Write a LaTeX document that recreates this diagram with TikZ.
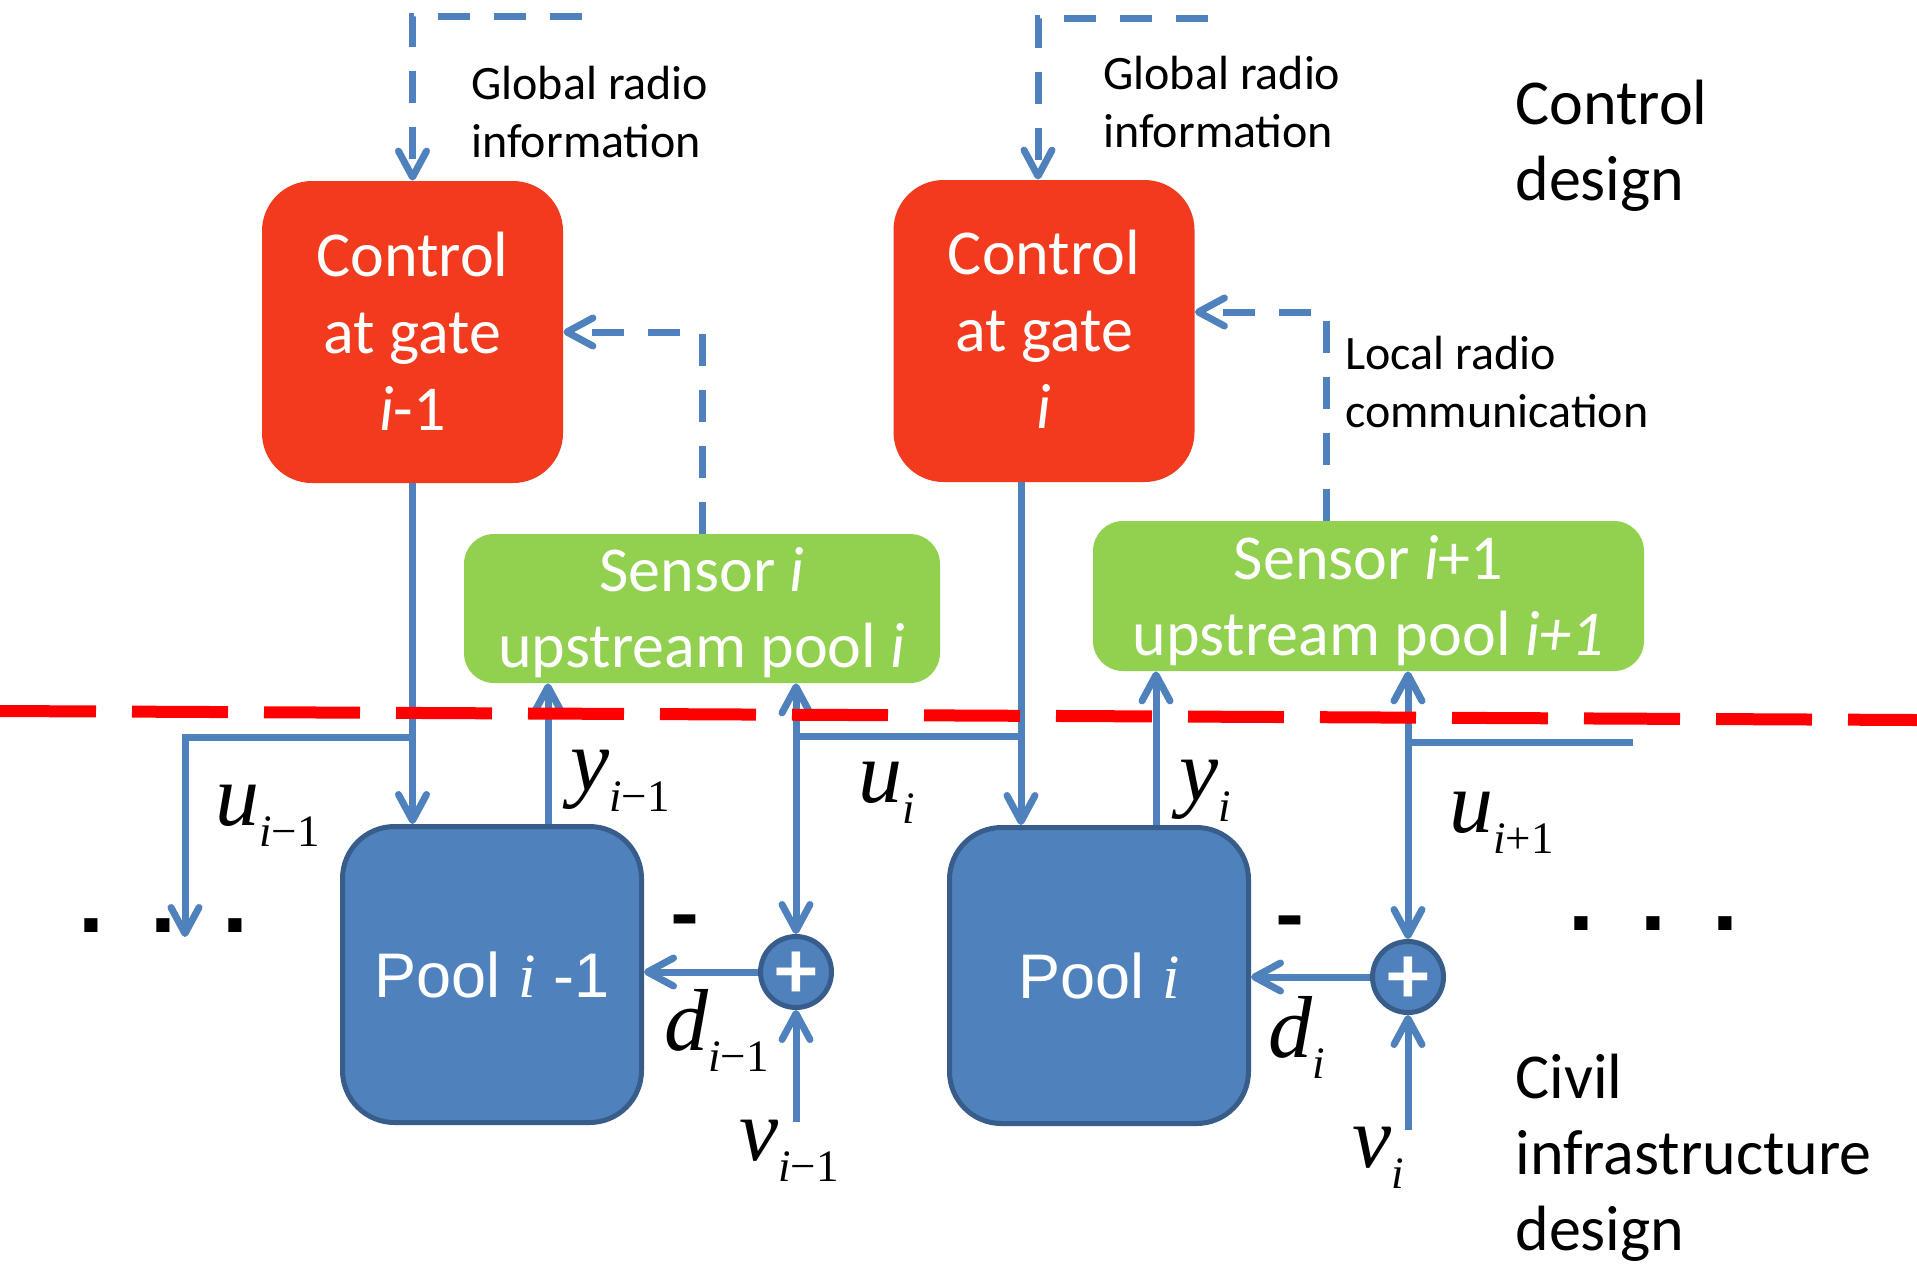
\documentclass[tikz,border=0pt]{standalone}
\usepackage{fontspec}
\setmainfont{Carlito}
\newfontfamily\tms{Liberation Serif}
\newfontfamily\arl{Liberation Sans}
\usetikzlibrary{arrows.meta}

\definecolor{gatered}{HTML}{F23A1E}
\definecolor{sensgreen}{HTML}{92D050}
\definecolor{poolblue}{HTML}{4F81BD}
\definecolor{pooledge}{HTML}{385D8A}
\definecolor{wireblue}{HTML}{4F81BD}
\definecolor{cutred}{HTML}{FF0000}

\newcommand\fs[2]{\fontsize{#1}{#2}\selectfont}
% signal name in Times-like italics with a lowered index
\newcommand\sig[2]{{\tms\fs{44pt}{44pt}\itshape #1}\raisebox{-10.5pt}{\tms\fs{22.5pt}{22.5pt}#2}}

\begin{document}
\begin{tikzpicture}[x=0.5pt,y=-0.5pt,
  ctrl/.style={fill=gatered, rounded corners=25pt, minimum width=150.5pt,
    minimum height=151pt, inner sep=0, text=white, align=center,
    font=\fs{32pt}{38.5pt}, text height=98pt, text depth=0pt},
  sensor/.style={fill=sensgreen, rounded corners=15pt, inner sep=0,
    text=white, align=center, font=\fs{32pt}{38pt},
    text height=59pt, text depth=0pt},
  pool/.style={fill=poolblue, draw=pooledge, line width=2.5pt,
    rounded corners=26pt, minimum width=149.5pt, minimum height=148pt,
    inner sep=0, text=white, font=\arl\fs{31.5pt}{36pt},
    text height=22.5pt, text depth=0pt},
  sum/.style={circle, fill=poolblue, draw=pooledge, line width=2.5pt,
    minimum size=35.5pt, inner sep=0, text=white,
    font=\bfseries\fs{42pt}{42pt}},
  wire/.style={draw=wireblue, line width=3.5pt},
  arr/.style={wire, -{Straight Barb[length=13pt,width=14pt,round]}},
  arrboth/.style={wire, {Straight Barb[length=13pt,width=14pt,round]}-{Straight Barb[length=13pt,width=14pt,round]}},
  radio/.style={dash pattern=on 16pt off 12pt},
  cut/.style={draw=cutred, line width=6pt, dash pattern=on 48pt off 18pt},
  note/.style={inner sep=0, anchor=base west, align=left,
    font=\fs{24pt}{29pt}},
  side/.style={inner sep=0, anchor=base west, align=left,
    font=\fs{32pt}{38pt}},
  sigl/.style={inner sep=0, anchor=base west},
  signdash/.style={inner sep=0, anchor=base, font=\bfseries\fs{44pt}{44pt}},
  dots/.style={inner sep=0, anchor=base west, font=\arl\bfseries\fs{46.5pt}{46.5pt}}
]
\useasboundingbox (0,0) rectangle (1917,1266);

% gate controllers
\node[ctrl] (k1) at (412.5,332) {Control\\at gate\\\textit{i}-1};
\node[ctrl, text height=97pt] (k2) at (1044,331) {Control\\at gate\\\textit{i}};

% level sensors
\node[sensor, minimum width=238pt, minimum height=74.5pt] (s1) at (702,608.5)
  {Sensor \textit{i}\\upstream pool \textit{i}};
\node[sensor, minimum width=275.5pt, minimum height=75pt] (s2) at (1368.5,596)
  {Sensor \textit{i}+1\\upstream pool \textit{i+1}};

% pools
\node[pool] (p1) at (492,974.5) {Pool {\tms\itshape i} -1};
\node[pool] (p2) at (1099,975.5) {Pool {\tms\itshape i}};

% summing junctions
\node[sum] (c1) at (796,972) {\raisebox{-0.32em}[0pt][0pt]{\makebox[0pt]{+}}};
\node[sum] (c2) at (1408,977) {\raisebox{-0.32em}[0pt][0pt]{\makebox[0pt]{+}}};

% free ends and branch points
\coordinate (g1) at (582,16);
\coordinate (g2) at (1208,18);
\coordinate (j1) at (412.5,737);
\coordinate (du) at (185,937);
\coordinate (j2) at (1021,736);
\coordinate (j3) at (1633,742);
\coordinate (v1) at (796,1122);
\coordinate (v2) at (1408,1130);
\coordinate (r0) at (0,711);
\coordinate (r1) at (1917,720);

% radio links
\draw[arr, radio] (g1) -| (k1.north);
\draw[arr, radio] (g2) -| ([xshift=-3pt]k2.north);
\draw[arr, radio] (s1.north) |- (k1.east);
\draw[arr, radio] ([xshift=-21.25pt]s2.north) |- ([yshift=9.5pt]k2.east);

% gate flows and measurements
\draw[arr] (k1.south) -- (k1.south |- p1.north);
\draw[arr] (j1) -| (du);
\draw[arr] ([xshift=28pt]p1.north) -- ([xshift=28pt]p1.north |- s1.south);
\draw[arrboth] (c1.north) -- (c1.north |- s1.south);
\draw[wire] (j2) -- (j2 -| c1);
\draw[arr] ([xshift=-11.5pt]k2.south) -- ([xshift=-11.5pt]k2.south |- p2.north);
\draw[arr] ([xshift=28.5pt]p2.north) -- ([xshift=28.5pt]p2.north |- s2.south);
\draw[arrboth] (c2.north) -- (c2.north |- s2.south);
\draw[wire] (j3) -- (j3 -| c2);
\draw[arr] (c1.west) -- (c1.west -| p1.east);
\draw[arr] (c2.west) -- (c2.west -| p2.east);
\draw[arr] (v1) -- (c1.south);
\draw[arr] (v2) -- (c2.south);

% boundary between control and civil design
\draw[cut] (r0) -- (r1);

% signal names
\node[sigl] (lu1) at (215,825) {\sig{u}{\textit{i}−1}};
\node[sigl] (ly1) at (570,790) {\sig{y}{\textit{i}−1}};
\node[sigl] (lu2) at (858,802) {\sig{u}{\textit{i}}};
\node[sigl] (ld1) at (664,1050) {\sig{d}{\textit{i}−1}};
\node[sigl] (lv1) at (739,1160) {\sig{v}{\textit{i}−1}};
\node[sigl] (ly2) at (1179,800) {\sig{y}{\textit{i}}};
\node[sigl] (lu3) at (1449,832) {\sig{u}{\textit{i}+1}};
\node[sigl] (ld2) at (1268,1057) {\sig{d}{\textit{i}}};
\node[sigl] (lv2) at (1352,1167) {\sig{v}{\textit{i}}};

% signs at the pool inputs
\node[signdash] (m1) at (685,944) {-};
\node[signdash] (m2) at (1290,945) {-};

% continuation dots
\node[dots] (e1) at (78,932) {.\hspace{23pt}.\hspace{23pt}.};
\node[dots] (e2) at (1568,930) {.\hspace{23pt}.\hspace{23pt}.};

% annotations (anchored at the baseline of the last line)
\node[note] (t1) at (471,157) {Global radio\\information};
\node[note] (t2) at (1103,147) {Global radio\\information};
\node[note] (t3) at (1345,427) {Local radio\\communication};
\node[side] (t4) at (1515,200) {Control\\design};
\node[side] (t5) at (1515,1250) {Civil\\infrastructure\\design};
\end{tikzpicture}
\end{document}
